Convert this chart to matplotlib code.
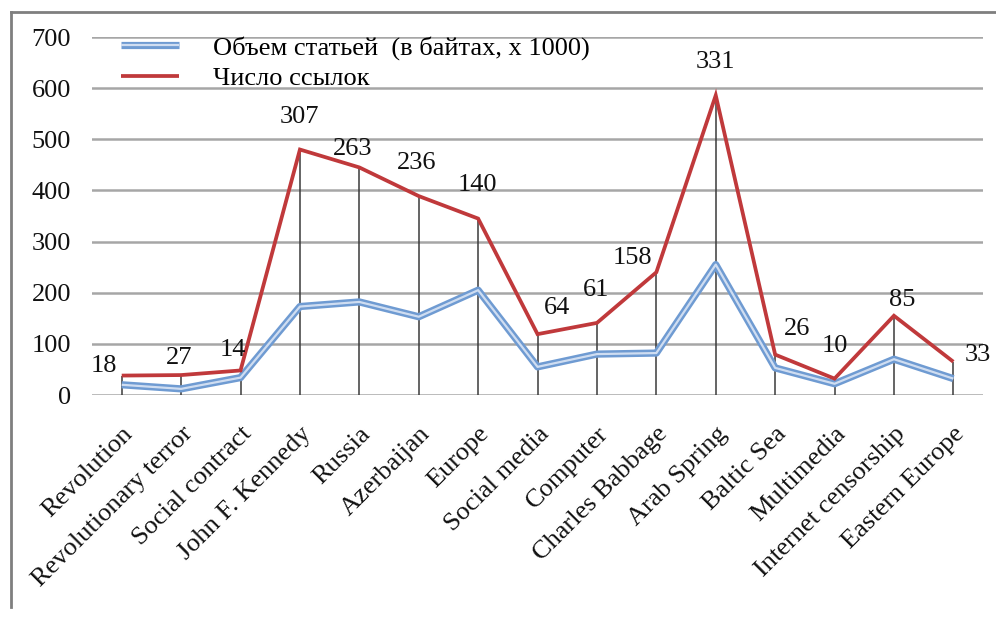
import matplotlib
matplotlib.use('Agg')
import matplotlib.pyplot as plt
from matplotlib.lines import Line2D
from matplotlib.legend_handler import HandlerTuple
import numpy as np

categories = ["Revolution", "Revolutionary terror", "Social contract", "John F. Kennedy",
              "Russia", "Azerbaijan", "Europe", "Social media", "Computer",
              "Charles Babbage", "Arab Spring", "Baltic Sea", "Multimedia",
              "Internet censorship", "Eastern Europe"]
# article size (bytes, x1000)
volume = [20, 12, 34, 173, 182, 153, 205, 55, 80, 82, 255, 53, 22, 70, 32]
# number of references (stacked on top of volume)
refs = [18, 27, 14, 307, 263, 236, 140, 64, 61, 158, 331, 26, 10, 85, 33]
yticks = [0, 100, 200, 300, 400, 500, 600, 700]

# label offsets in pixels (dx, dy) relative to the red point
label_offsets = [(-18, 10), (-2, 17), (-8, 20), (0, 33), (-7, 18), (-2, 33), (-1, 34),
                 (19, 26), (-1, 33), (-24, 14), (0, 33), (22, 26), (0, 33), (8, 16), (24, 7)]

plt.rcParams['font.family'] = ['Liberation Serif', 'DejaVu Serif']
FS = 19

fig = plt.figure(figsize=(9.96, 6.17), dpi=100)
ax = fig.add_axes([0.0924, 0.3598, 0.8946, 0.5802])

x = np.arange(len(categories))
total = np.array(volume) + np.array(refs)

ax.set_xlim(-0.5, len(categories) - 0.5)
ax.set_ylim(0, 700)
ax.set_yticks(yticks)
for y in yticks:
    ax.axhline(y, color='#A6A6A6', lw=1.8, zorder=1)

# drop lines
ax.vlines(x, 0, total, color='#3A3A3A', lw=1.1, zorder=2)

blue_outer = dict(color='#6F9BD2', lw=5.2, solid_joinstyle='round', solid_capstyle='butt')
blue_inner = dict(color='#CFDDF1', lw=1.6, solid_joinstyle='round', solid_capstyle='butt')
ax.plot(x, volume, zorder=3, **blue_outer)
ax.plot(x, volume, zorder=4, **blue_inner)
red_style = dict(color='#C0393B', lw=2.7, solid_joinstyle='miter', solid_capstyle='butt')
ax.plot(x, total, zorder=5, **red_style)

for i, r in enumerate(refs):
    dx, dy = label_offsets[i]
    ax.annotate(str(r), (x[i], total[i]), xytext=(dx, dy), textcoords='offset pixels',
                ha='center', va='center', fontsize=FS, color='#111111', zorder=6)

for s in ax.spines.values():
    s.set_visible(False)
ax.tick_params(axis='both', length=0, labelsize=FS, colors='#111111')
ax.tick_params(axis='y', pad=15)
ax.set_xticks(x)
ax.set_xticklabels(categories, rotation=45, ha='right', rotation_mode='anchor')
ax.tick_params(axis='x', pad=20)

h_blue = (Line2D([], [], **blue_outer), Line2D([], [], **blue_inner))
h_red = Line2D([], [], **red_style)
leg = fig.legend([h_blue, h_red], ["Объем статьей  (в байтах, х 1000)", "Число ссылок"],
                 handler_map={tuple: HandlerTuple(ndivide=1, pad=0)},
                 loc='upper left', bbox_to_anchor=(0.108, 0.963), frameon=False,
                 fontsize=FS, handlelength=2.2, handletextpad=1.3, labelspacing=0.25,
                 borderpad=0)

# outer frame (top and left edges)
fig.add_artist(Line2D([11 / 996, 11 / 996], [10 / 617, 1 - 12 / 617], transform=fig.transFigure,
                      color='#7F7F7F', lw=2))
fig.add_artist(Line2D([11 / 996, 1], [1 - 12 / 617, 1 - 12 / 617], transform=fig.transFigure,
                      color='#7F7F7F', lw=2))

fig.savefig('out.png', dpi=100)
